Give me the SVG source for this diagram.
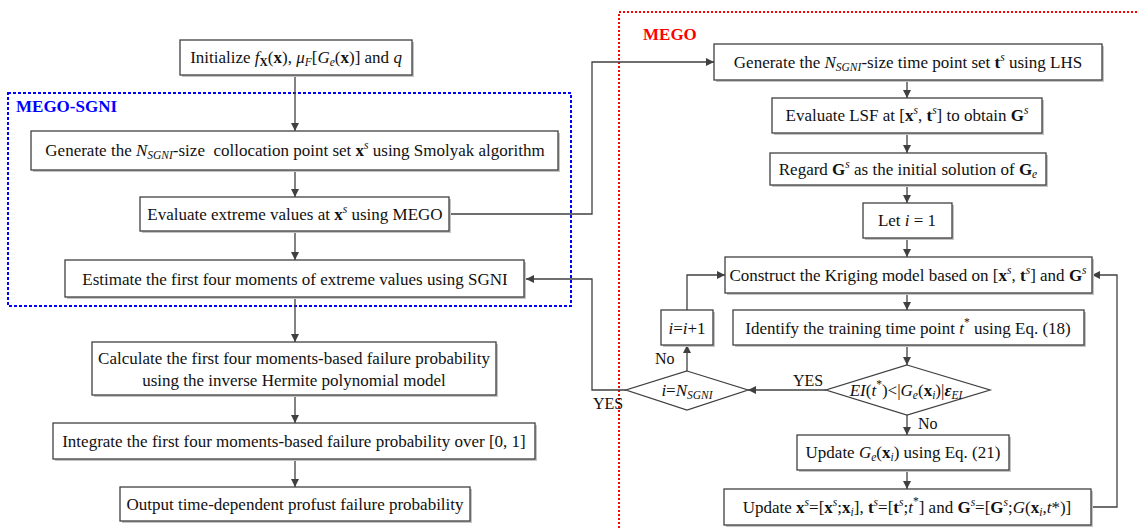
<svg xmlns="http://www.w3.org/2000/svg" width="1137" height="530" viewBox="0 0 1137 530">
<style>
.bx{fill:#fff;stroke:#404040;stroke-width:1.3}
.sh{fill:#c4c4c4}
.t{font-family:"Liberation Serif","Times New Roman",serif;font-size:17px;fill:#111;text-anchor:middle}
.l{font-family:"Liberation Serif","Times New Roman",serif;font-size:16px;fill:#111}
.it{font-style:italic}
.b{font-weight:bold}
.sm{font-size:11.5px}
.cn{fill:none;stroke:#404040;stroke-width:1.3}
</style>
<defs>
<marker id="ah" viewBox="0 0 10 10" refX="10" refY="5" markerWidth="8" markerHeight="8" markerUnits="userSpaceOnUse" orient="auto">
<path d="M0,0 L10,5 L0,10 z" fill="#404040"/>
</marker>
</defs>
<rect width="1137" height="530" fill="#fff"/>

<g id="regions">
<rect x="8" y="93" width="563" height="213" fill="none" stroke="#0000ff" stroke-width="2" stroke-dasharray="3,2"/>
<text x="16" y="112" font-family="Liberation Serif, serif" font-size="17" font-weight="bold" fill="#0000ff">MEGO-SGNI</text>
<path d="M1137,12 H619 V530" fill="none" stroke="#ff0000" stroke-width="2" stroke-dasharray="2,2"/>
<text x="643" y="40" font-family="Liberation Serif, serif" font-size="17" font-weight="bold" fill="#ff0000">MEGO</text>
</g>

<g id="connectors">
<path class="cn" d="M295,75 V131" marker-end="url(#ah)"/>
<path class="cn" d="M295,170 V197" marker-end="url(#ah)"/>
<path class="cn" d="M295,231 V260" marker-end="url(#ah)"/>
<path class="cn" d="M295,297 V342" marker-end="url(#ah)"/>
<path class="cn" d="M295,395 V423" marker-end="url(#ah)"/>
<path class="cn" d="M295,459 V487" marker-end="url(#ah)"/>
<path class="cn" d="M449,214 H592 V62 H714" marker-end="url(#ah)"/>
<path class="cn" d="M626,390 H592 V279 H526" marker-end="url(#ah)"/>
<path class="cn" d="M907,80 V98" marker-end="url(#ah)"/>
<path class="cn" d="M907,133 V153" marker-end="url(#ah)"/>
<path class="cn" d="M907,185 V203" marker-end="url(#ah)"/>
<path class="cn" d="M907,238 V257" marker-end="url(#ah)"/>
<path class="cn" d="M907,293 V310" marker-end="url(#ah)"/>
<path class="cn" d="M907,345 V365" marker-end="url(#ah)"/>
<path class="cn" d="M907,415 V435" marker-end="url(#ah)"/>
<path class="cn" d="M907,470 V489" marker-end="url(#ah)"/>
<path class="cn" d="M826,390 H748" marker-end="url(#ah)"/>
<path class="cn" d="M687,371 V345" marker-end="url(#ah)"/>
<path class="cn" d="M687,310 V275 H725" marker-end="url(#ah)"/>
<path class="cn" d="M1091,507 H1117 V275 H1092" marker-end="url(#ah)"/>
<text class="l" x="655" y="364">No</text>
<text class="l" x="793" y="386">YES</text>
<text class="l" x="918" y="429">No</text>
<text class="l" x="593" y="409">YES</text>
</g>

<g id="n-init">
<rect class="sh" x="182" y="42" width="232" height="35"/>
<rect class="bx" x="180" y="40" width="232" height="35"/>
<text class="t" x="296" y="63">Initialize <tspan class="it">f</tspan><tspan class="b sm" dy="3">X</tspan><tspan dy="-3">(</tspan><tspan class="b">x</tspan>), <tspan class="it">μ</tspan><tspan class="it sm" dy="3">F</tspan><tspan dy="-3">[</tspan><tspan class="it">G</tspan><tspan class="it sm" dy="3">e</tspan><tspan dy="-3">(</tspan><tspan class="b">x</tspan>)] and <tspan class="it">q</tspan></text>
</g>

<g id="n-gen">
<rect class="sh" x="33" y="133" width="527" height="39"/>
<rect class="bx" x="31" y="131" width="527" height="39"/>
<text class="t" x="295" y="156">Generate the <tspan class="it">N</tspan><tspan class="it sm" dy="3">SGNI</tspan><tspan dy="-3">-size&#160; collocation point set </tspan><tspan class="b">x</tspan><tspan class="it sm" dy="-7">s</tspan><tspan dy="7"> using Smolyak algorithm</tspan></text>
</g>

<g id="n-eval">
<rect class="sh" x="142" y="199" width="309" height="34"/>
<rect class="bx" x="140" y="197" width="309" height="34"/>
<text class="t" x="295" y="220">Evaluate extreme values at <tspan class="b">x</tspan><tspan class="it sm" dy="-7">s</tspan><tspan dy="7"> using MEGO</tspan></text>
</g>

<g id="n-est">
<rect class="sh" x="67" y="262" width="459" height="37"/>
<rect class="bx" x="65" y="260" width="459" height="37"/>
<text class="t" x="295" y="285">Estimate the first four moments of extreme values using SGNI</text>
</g>

<g id="n-calc">
<rect class="sh" x="94" y="344" width="404" height="53"/>
<rect class="bx" x="92" y="342" width="404" height="53"/>
<text class="t" x="294" y="364">Calculate the first four moments-based failure probability</text>
<text class="t" x="294" y="386">using the inverse Hermite polynomial model</text>
</g>

<g id="n-int">
<rect class="sh" x="55" y="425" width="482" height="36"/>
<rect class="bx" x="53" y="423" width="482" height="36"/>
<text class="t" x="294" y="447">Integrate the first four moments-based failure probability over [0, 1]</text>
</g>

<g id="n-out">
<rect class="sh" x="122" y="489" width="350" height="34"/>
<rect class="bx" x="120" y="487" width="350" height="34"/>
<text class="t" x="295" y="510">Output time-dependent profust failure probability</text>
</g>

<g id="n-gent">
<rect class="sh" x="716" y="46" width="388" height="36"/>
<rect class="bx" x="714" y="44" width="388" height="36"/>
<text class="t" x="908" y="68">Generate the <tspan class="it">N</tspan><tspan class="it sm" dy="3">SGNI</tspan><tspan dy="-3">-size time point set </tspan><tspan class="b">t</tspan><tspan class="it sm" dy="-7">s</tspan><tspan dy="7"> using LHS</tspan></text>
</g>

<g id="n-lsf">
<rect class="sh" x="774" y="100" width="270" height="35"/>
<rect class="bx" x="772" y="98" width="270" height="35"/>
<text class="t" x="907" y="121">Evaluate LSF at [<tspan class="b">x</tspan><tspan class="it sm" dy="-7">s</tspan><tspan dy="7">, </tspan><tspan class="b">t</tspan><tspan class="it sm" dy="-7">s</tspan><tspan dy="7">] to obtain </tspan><tspan class="b">G</tspan><tspan class="it sm" dy="-7">s</tspan></text>
</g>

<g id="n-regard">
<rect class="sh" x="772" y="155" width="276" height="32"/>
<rect class="bx" x="770" y="153" width="276" height="32"/>
<text class="t" x="908" y="175">Regard <tspan class="b">G</tspan><tspan class="it sm" dy="-7">s</tspan><tspan dy="7"> as the initial solution of </tspan><tspan class="b">G</tspan><tspan class="it sm" dy="3">e</tspan></text>
</g>

<g id="n-let">
<rect class="sh" x="865" y="205" width="89" height="35"/>
<rect class="bx" x="863" y="203" width="89" height="35"/>
<text class="t" x="907" y="226">Let <tspan class="it">i</tspan> = 1</text>
</g>

<g id="n-krig">
<rect class="sh" x="727" y="259" width="367" height="36"/>
<rect class="bx" x="725" y="257" width="367" height="36"/>
<text class="t" x="908" y="281">Construct the Kriging model based on [<tspan class="b">x</tspan><tspan class="it sm" dy="-7">s</tspan><tspan dy="7">, </tspan><tspan class="b">t</tspan><tspan class="it sm" dy="-7">s</tspan><tspan dy="7">] and </tspan><tspan class="b">G</tspan><tspan class="it sm" dy="-7">s</tspan></text>
</g>

<g id="n-ident">
<rect class="sh" x="735" y="312" width="351" height="35"/>
<rect class="bx" x="733" y="310" width="351" height="35"/>
<text class="t" x="908" y="334">Identify the training time point <tspan class="it">t</tspan><tspan class="sm" dy="-8">*</tspan><tspan dy="8"> using Eq. (18)</tspan></text>
</g>

<g id="n-ei">
<polygon points="907,365 990,390 907,415 826,390" fill="#fff" stroke="#404040" stroke-width="1.3"/>
<text class="t" x="906" y="396"><tspan class="it">EI</tspan>(<tspan class="it">t</tspan><tspan class="sm" dy="-8">*</tspan><tspan dy="8">)&lt;|</tspan><tspan class="it">G</tspan><tspan class="it sm" dy="3">e</tspan><tspan dy="-3">(</tspan><tspan class="b">x</tspan><tspan class="it sm" dy="3">i</tspan><tspan dy="-3">)|</tspan><tspan class="it b">ε</tspan><tspan class="it sm" dy="3">EI</tspan></text>
</g>

<g id="n-upge">
<rect class="sh" x="799" y="437" width="212" height="35"/>
<rect class="bx" x="797" y="435" width="212" height="35"/>
<text class="t" x="903" y="458">Update <tspan class="it">G</tspan><tspan class="it sm" dy="3">e</tspan><tspan dy="-3">(</tspan><tspan class="b">x</tspan><tspan class="it sm" dy="3">i</tspan><tspan dy="-3">) using Eq. (21)</tspan></text>
</g>

<g id="n-upxs">
<rect class="sh" x="726" y="491" width="367" height="36"/>
<rect class="bx" x="724" y="489" width="367" height="36"/>
<text class="t" x="907" y="513">Update <tspan class="b">x</tspan><tspan class="it sm" dy="-7">s</tspan><tspan dy="7">=[</tspan><tspan class="b">x</tspan><tspan class="it sm" dy="-7">s</tspan><tspan dy="7">;</tspan><tspan class="b">x</tspan><tspan class="it sm" dy="3">i</tspan><tspan dy="-3">], </tspan><tspan class="b">t</tspan><tspan class="it sm" dy="-7">s</tspan><tspan dy="7">=[</tspan><tspan class="b">t</tspan><tspan class="it sm" dy="-7">s</tspan><tspan dy="7">;</tspan><tspan class="it">t</tspan><tspan class="sm" dy="-8">*</tspan><tspan dy="8">] and </tspan><tspan class="b">G</tspan><tspan class="it sm" dy="-7">s</tspan><tspan dy="7">=[</tspan><tspan class="b">G</tspan><tspan class="it sm" dy="-7">s</tspan><tspan dy="7">;</tspan><tspan class="it">G</tspan>(<tspan class="b">x</tspan><tspan class="it sm" dy="3">i</tspan><tspan dy="-3">,</tspan><tspan class="it">t</tspan>*)]</text>
</g>

<g id="n-inc">
<rect class="sh" x="663" y="312" width="52" height="35"/>
<rect class="bx" x="661" y="310" width="52" height="35"/>
<text class="t" x="687" y="334"><tspan class="it">i</tspan>=<tspan class="it">i</tspan>+1</text>
</g>

<g id="n-ieq">
<polygon points="687,371 748,390 687,410 626,390" fill="#fff" stroke="#404040" stroke-width="1.3"/>
<text class="t" x="687" y="396"><tspan class="it">i</tspan>=<tspan class="it">N</tspan><tspan class="it sm" dy="3">SGNI</tspan></text>
</g>
</svg>
